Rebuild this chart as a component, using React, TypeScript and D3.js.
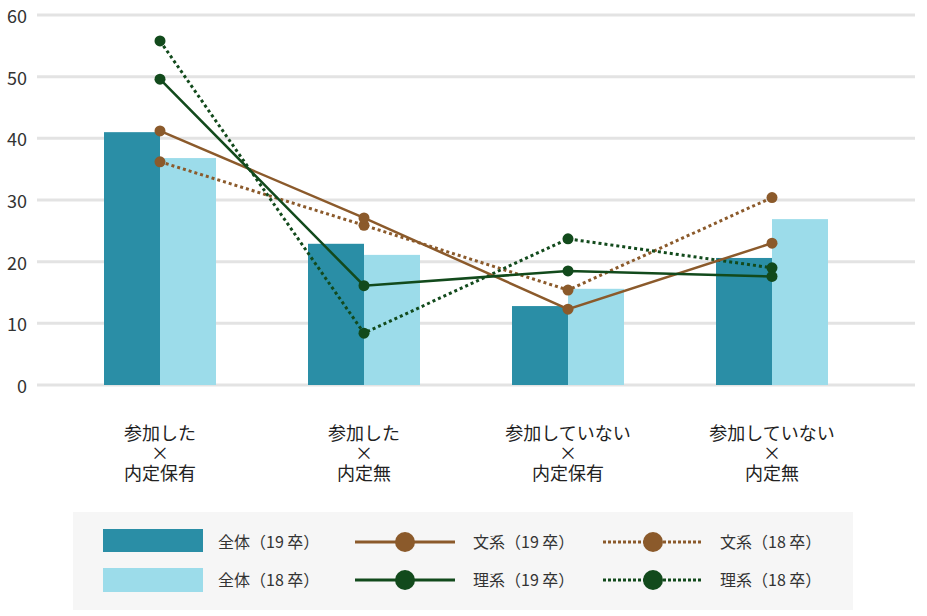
import React from "react";
import * as d3 from "d3";

const categories = [
  ["参加した", "×", "内定保有"],
  ["参加した", "×", "内定無"],
  ["参加していない", "×", "内定保有"],
  ["参加していない", "×", "内定無"],
];
const catKeys = ["a", "b", "c", "d"];

const all19 = [41.0, 22.9, 12.8, 20.6];
const all18 = [36.8, 21.1, 15.6, 26.9];
const bun19 = [41.2, 27.1, 12.3, 23.0];
const bun18 = [36.2, 25.9, 15.4, 30.4];
const ri19 = [49.6, 16.1, 18.5, 17.6];
const ri18 = [55.8, 8.4, 23.7, 19.0];

const yTicks = [0, 10, 20, 30, 40, 50, 60];

const TEAL = "#2a8ea6";
const LIGHT = "#9cdcea";
const BROWN = "#8b5a2b";
const GREEN = "#124a1c";
const FONT = "'Noto Sans CJK JP', 'Noto Sans', sans-serif";

export default function App() {
  const width = 927;
  const height = 616;

  const y = d3.scaleLinear().domain([0, 60]).range([385, 15]);
  const x = d3.scalePoint<string>().domain(catKeys).range([160, 772]);
  const barW = 56;

  const line = d3
    .line<number>()
    .x((_, i) => x(catKeys[i])!)
    .y((d) => y(d));

  const lineSeries = [
    { name: "文系（19 卒）", data: bun19, color: BROWN, dotted: false },
    { name: "文系（18 卒）", data: bun18, color: BROWN, dotted: true },
    { name: "理系（19 卒）", data: ri19, color: GREEN, dotted: false },
    { name: "理系（18 卒）", data: ri18, color: GREEN, dotted: true },
  ];

  const drawOrder = [lineSeries[1], lineSeries[3], lineSeries[0], lineSeries[2]];

  return (
    <svg width={width} height={height} style={{ position: "absolute", left: 0, top: 0 }}>
      <rect width={width} height={height} fill="#fff" />
      {/* grid */}
      {yTicks.map((t) => (
        <g key={t}>
          <line x1={37} x2={915} y1={y(t)} y2={y(t)} stroke="#e3e3e3" strokeWidth={3} />
          <text x={27} y={y(t) + 8} textAnchor="end" fontSize={18} fill="#333" fontFamily={FONT}>
            {t}
          </text>
        </g>
      ))}

      {/* bars */}
      {catKeys.map((k, i) => (
        <g key={k}>
          <rect x={x(k)! - barW} y={y(all19[i])} width={barW} height={y(0) - y(all19[i])} fill={TEAL} />
          <rect x={x(k)!} y={y(all18[i])} width={barW} height={y(0) - y(all18[i])} fill={LIGHT} />
        </g>
      ))}

      {/* lines */}
      {drawOrder.map((s) => (
        <g key={s.name}>
          <path
            d={line(s.data) || ""}
            fill="none"
            stroke={s.color}
            strokeWidth={s.dotted ? 3 : 2.5}
            strokeDasharray={s.dotted ? "3,3" : undefined}
          />
          {s.data.map((v, i) => (
            <circle key={i} cx={x(catKeys[i])!} cy={y(v)} r={5.5} fill={s.color} />
          ))}
        </g>
      ))}

      {/* category labels */}
      {categories.map((lines, i) => (
        <text key={i} textAnchor="middle" fontSize={18} fill="#222" fontFamily={FONT}>
          {lines.map((l, j) => (
            <tspan key={j} x={x(catKeys[i])!} y={440 + j * 20}>
              {l}
            </tspan>
          ))}
        </text>
      ))}

      {/* legend */}
      <rect x={73} y={512} width={780} height={98} fill="#f6f6f6" />
      <rect x={103} y={529} width={100} height={23} fill={TEAL} />
      <text x={218} y={548} fontSize={16} fill="#333" fontFamily={FONT}>全体（19 卒）</text>
      <rect x={103} y={568} width={100} height={24} fill={LIGHT} />
      <text x={218} y={586} fontSize={16} fill="#333" fontFamily={FONT}>全体（18 卒）</text>
      {lineSeries.map((s, i) => {
        const col = s.dotted ? 1 : 0;
        const row = i >= 2 ? 1 : 0;
        const lx = col === 0 ? 355 : 603;
        const cy = row === 0 ? 542 : 580;
        const tx = col === 0 ? 473 : 720;
        return (
          <g key={s.name}>
            <line
              x1={lx}
              x2={lx + 100}
              y1={cy}
              y2={cy}
              stroke={s.color}
              strokeWidth={3}
              strokeDasharray={s.dotted ? "3,2" : undefined}
            />
            <circle cx={lx + 50} cy={cy} r={10} fill={s.color} />
            <text x={tx} y={cy + 6} fontSize={16} fill="#333" fontFamily={FONT}>
              {s.name}
            </text>
          </g>
        );
      })}
    </svg>
  );
}
